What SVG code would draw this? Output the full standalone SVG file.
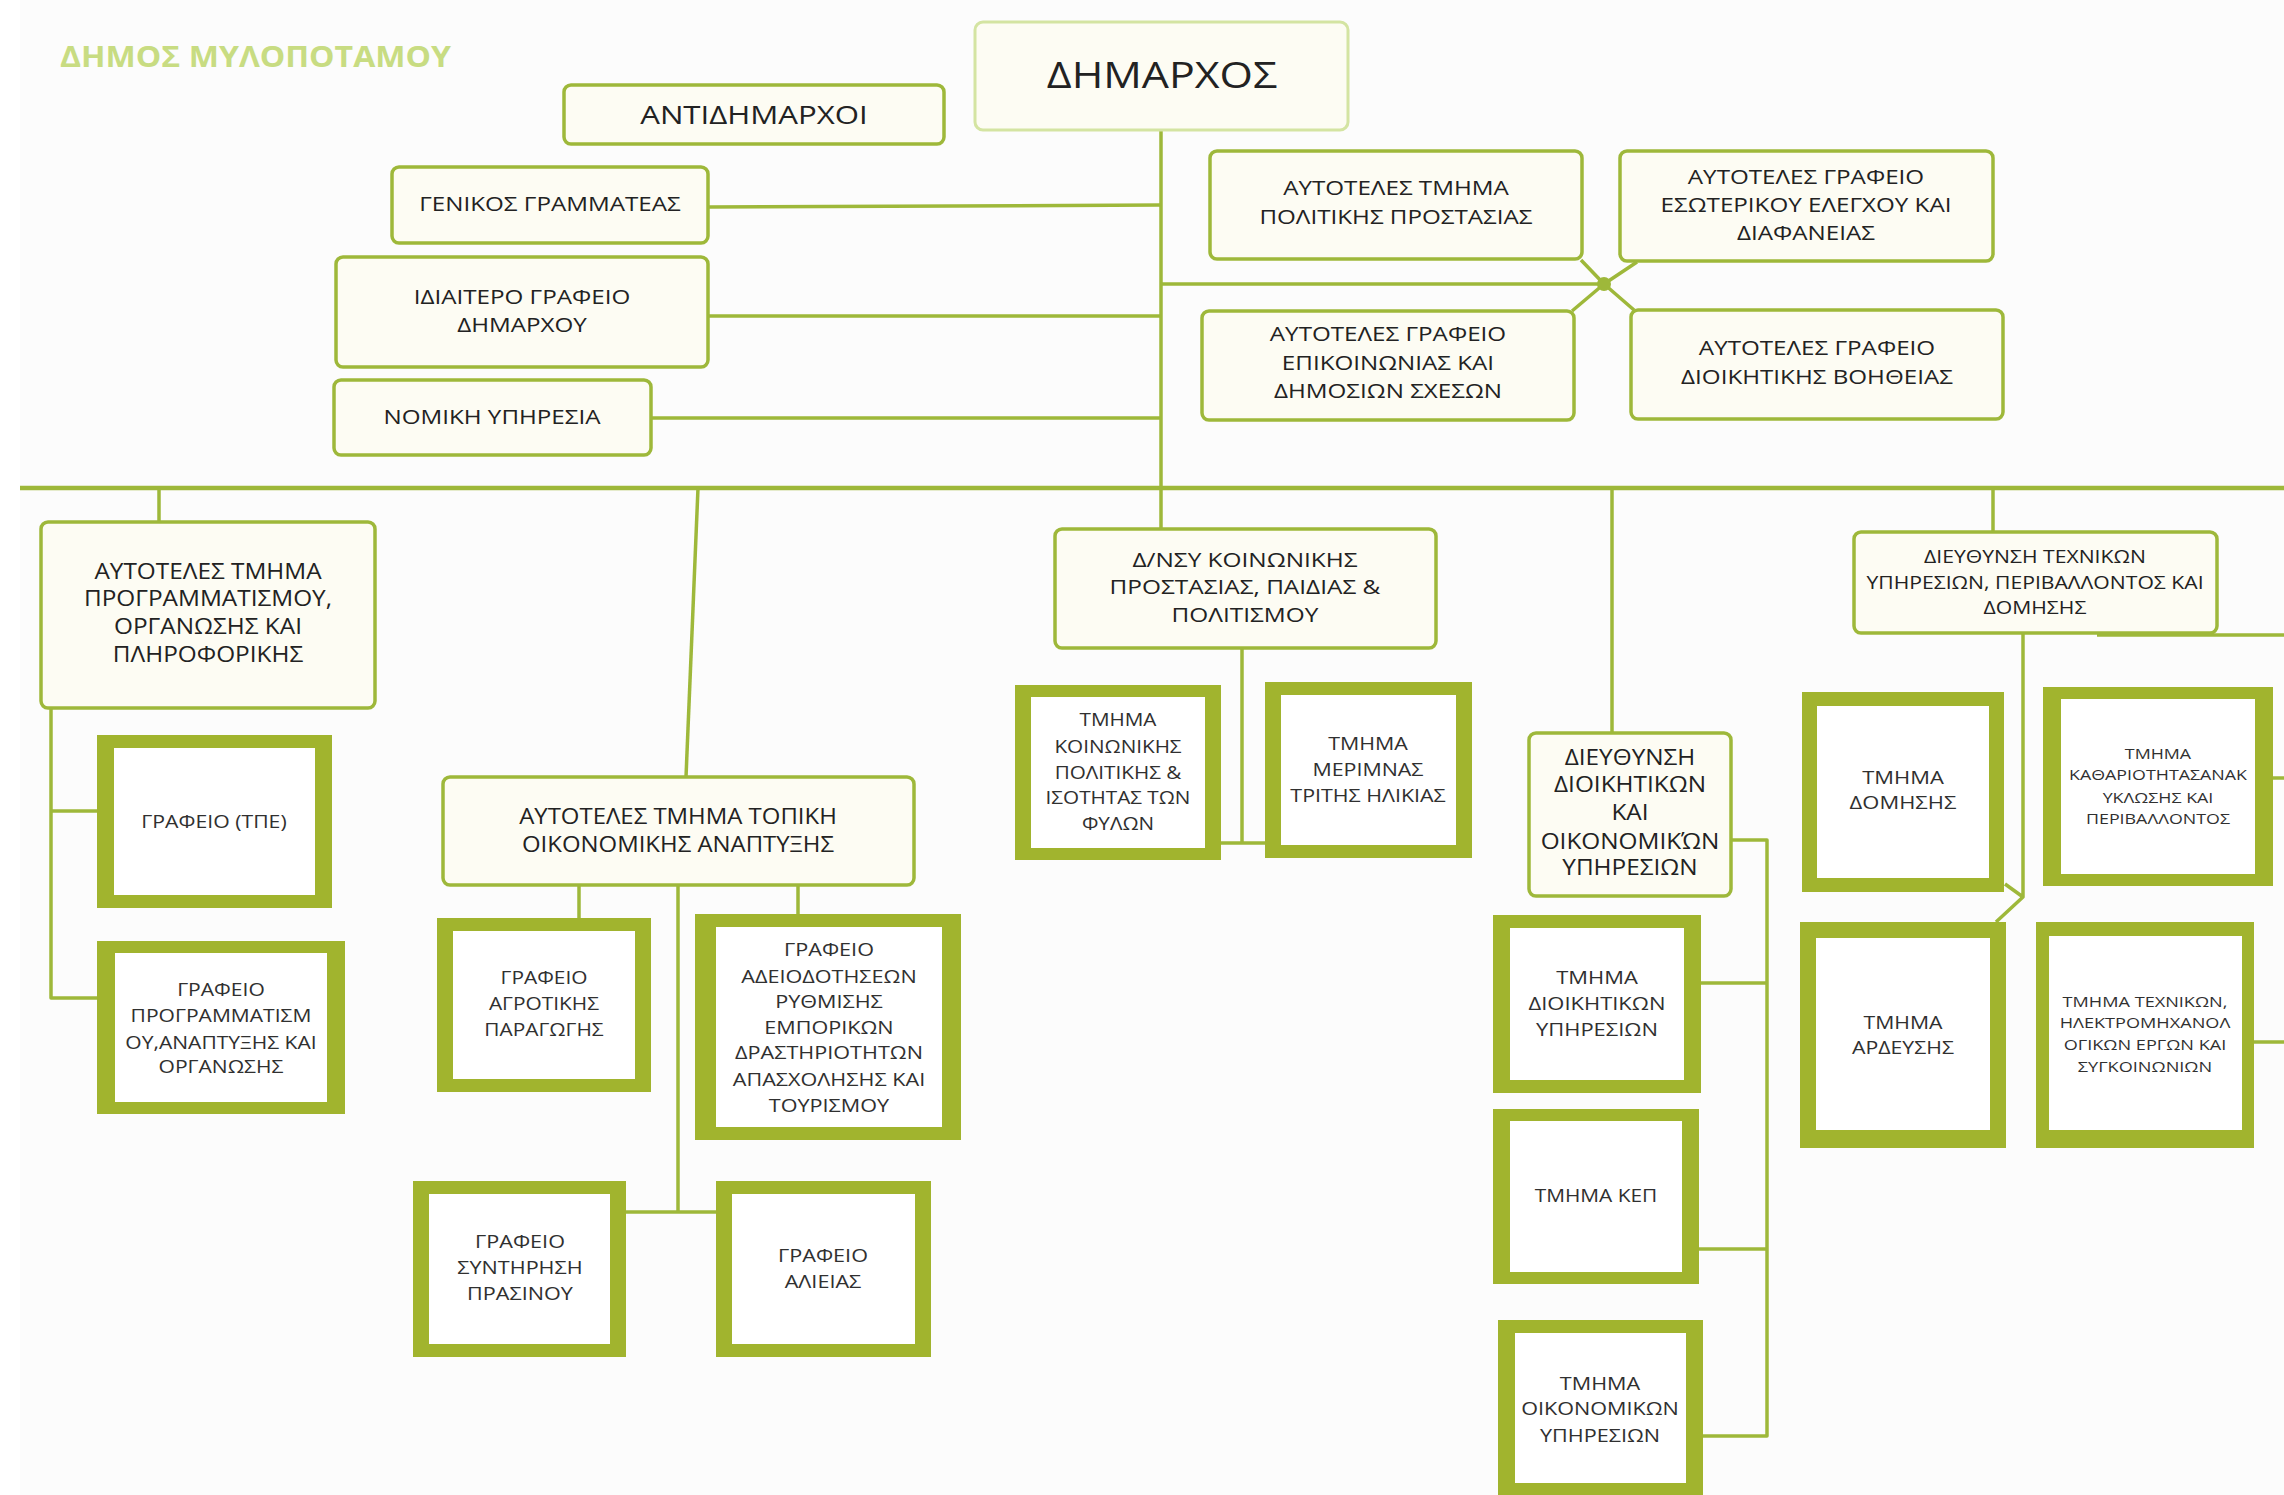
<svg xmlns="http://www.w3.org/2000/svg" width="2284" height="1495" viewBox="0 0 2284 1495">
<defs>
<style>
.n{fill:#fdfcf3;stroke:#9eb83a;stroke-width:3.5}
.top{fill:#fdfcf3;stroke:#d4e4a2;stroke-width:3}
.tb{fill:#a1b42e}
.ti{fill:#ffffff}
.c{fill:none;stroke:#9eb83a;stroke-width:3.5;stroke-linejoin:round}
.bar{fill:none;stroke:#9eb83a;stroke-width:4.5}
text{font-family:"Open Sans","Noto Sans","DejaVu Sans",sans-serif;text-anchor:middle;fill:#222}
.t20{font-size:20.5px}
.t21{font-size:21px}
.t18{font-size:18px;fill:#303030}
.t15{font-size:15px;fill:#303030}
.title{font-size:28px;font-weight:bold;fill:#c8dc82;text-anchor:start}
</style>
</defs>
<rect x="0" y="0" width="2284" height="1495" fill="#ffffff"/>
<rect x="20" y="0" width="2264" height="1495" fill="#fcfcfc"/>

<text class="title" x="60" y="67" textLength="391" lengthAdjust="spacingAndGlyphs">ΔΗΜΟΣ ΜΥΛΟΠΟΤΑΜΟΥ</text>

<g id="connectors">
<line class="c" x1="1161" y1="130" x2="1161" y2="529"/>
<line class="c" x1="708" y1="207" x2="1161" y2="205"/>
<line class="c" x1="708" y1="316" x2="1161" y2="316"/>
<line class="c" x1="651" y1="418" x2="1161" y2="418"/>
<line class="c" x1="1161" y1="284" x2="1604" y2="284"/>
<path class="c" d="M1581 260 L1604 284 L1637 262 M1572 311 L1604 284 L1634 310"/>
<circle cx="1604" cy="284" r="7" fill="#9eb83a"/>
<line class="bar" x1="20" y1="488" x2="2284" y2="488"/>
<line class="c" x1="159" y1="488" x2="159" y2="522"/>
<path class="c" d="M51 708 L51 998 L97 998 M51 811 L97 811"/>
<line class="c" x1="698" y1="488" x2="686" y2="777"/>
<line class="c" x1="579" y1="885" x2="579" y2="918"/>
<line class="c" x1="678" y1="885" x2="678" y2="1212"/>
<line class="c" x1="798" y1="885" x2="798" y2="914"/>
<line class="c" x1="626" y1="1212" x2="716" y2="1212"/>
<line class="c" x1="1242" y1="648" x2="1242" y2="843"/>
<line class="c" x1="1221" y1="843" x2="1265" y2="843"/>
<line class="c" x1="1612" y1="488" x2="1612" y2="733"/>
<path class="c" d="M1731 840 L1767 840 L1767 1436 L1703 1436 M1701 983 L1767 983 M1699 1249 L1767 1249"/>
<line class="c" x1="1993" y1="488" x2="1993" y2="532"/>
<line class="c" x1="2097" y1="635" x2="2284" y2="635"/>
<line class="c" x1="2273" y1="778" x2="2284" y2="778"/>
<line class="c" x1="2254" y1="1042" x2="2284" y2="1042"/>
<path class="c" d="M2023 633 L2023 897 L1996 922 M2005 884 L2023 897"/>
</g>

<g id="dimarxos">
<rect class="top" x="975" y="22" width="373" height="108" rx="8"/>
<g transform="matrix(1.16 0 0 1 -185.9 0)"><text x="1162" y="88" style="font-size:37px">ΔΗΜΑΡΧΟΣ</text></g>
</g>
<g id="antidimarxoi">
<rect class="n" x="564" y="85" width="380" height="59" rx="7"/>
<g transform="matrix(1.2 0 0 1 -150.8 0)"><text x="754" y="124" style="font-size:26px">ΑΝΤΙΔΗΜΑΡΧΟΙ</text></g>
</g>
<g id="genikos">
<rect class="n" x="392" y="167" width="316" height="76" rx="7"/>
<g transform="matrix(1.18 0 0 1 -99 0)"><text class="t20" x="550" y="211.5">ΓΕΝΙΚΟΣ ΓΡΑΜΜΑΤΕΑΣ</text></g>
</g>
<g id="idiaitero">
<rect class="n" x="336" y="257" width="372" height="110" rx="7"/>
<g transform="matrix(1.18 0 0 1 -93.96 0)">
<text class="t20" x="522" y="304">ΙΔΙΑΙΤΕΡΟ ΓΡΑΦΕΙΟ</text>
<text class="t20" x="522" y="332">ΔΗΜΑΡΧΟΥ</text>
</g>
</g>
<g id="nomiki">
<rect class="n" x="334" y="380" width="317" height="75" rx="7"/>
<g transform="matrix(1.18 0 0 1 -88.56 0)"><text class="t20" x="492" y="424">ΝΟΜΙΚΗ ΥΠΗΡΕΣΙΑ</text></g>
</g>
<g id="politiki-prostasia">
<rect class="n" x="1210" y="151" width="372" height="108" rx="7"/>
<g transform="matrix(1.18 0 0 1 -251.28 0)">
<text class="t20" x="1396" y="195">ΑΥΤΟΤΕΛΕΣ ΤΜΗΜΑ</text>
<text class="t20" x="1396" y="224">ΠΟΛΙΤΙΚΗΣ ΠΡΟΣΤΑΣΙΑΣ</text>
</g>
</g>
<g id="esoterikos-elegxos">
<rect class="n" x="1620" y="151" width="373" height="110" rx="7"/>
<g transform="matrix(1.18 0 0 1 -325.08 0)">
<text class="t20" x="1806" y="184">ΑΥΤΟΤΕΛΕΣ ΓΡΑΦΕΙΟ</text>
<text class="t20" x="1806" y="212">ΕΣΩΤΕΡΙΚΟΥ ΕΛΕΓΧΟΥ ΚΑΙ</text>
<text class="t20" x="1806" y="240">ΔΙΑΦΑΝΕΙΑΣ</text>
</g>
</g>
<g id="epikoinonia">
<rect class="n" x="1202" y="311" width="372" height="109" rx="7"/>
<g transform="matrix(1.18 0 0 1 -249.84 0)">
<text class="t20" x="1388" y="341">ΑΥΤΟΤΕΛΕΣ ΓΡΑΦΕΙΟ</text>
<text class="t20" x="1388" y="370">ΕΠΙΚΟΙΝΩΝΙΑΣ ΚΑΙ</text>
<text class="t20" x="1388" y="398">ΔΗΜΟΣΙΩΝ ΣΧΕΣΩΝ</text>
</g>
</g>
<g id="dioikitiki-voitheia">
<rect class="n" x="1631" y="310" width="372" height="109" rx="7"/>
<g transform="matrix(1.18 0 0 1 -327.06 0)">
<text class="t20" x="1817" y="355">ΑΥΤΟΤΕΛΕΣ ΓΡΑΦΕΙΟ</text>
<text class="t20" x="1817" y="384">ΔΙΟΙΚΗΤΙΚΗΣ ΒΟΗΘΕΙΑΣ</text>
</g>
</g>
<g id="programmatismos">
<rect class="n" x="41" y="522" width="334" height="186" rx="7"/>
<g transform="matrix(1.16 0 0 1 -33.28 0)">
<text class="t21" x="208" y="579.5">ΑΥΤΟΤΕΛΕΣ ΤΜΗΜΑ</text>
<text class="t21" x="208" y="606.5">ΠΡΟΓΡΑΜΜΑΤΙΣΜΟΥ,</text>
<text class="t21" x="208" y="634.5">ΟΡΓΑΝΩΣΗΣ ΚΑΙ</text>
<text class="t21" x="208" y="662.5">ΠΛΗΡΟΦΟΡΙΚΗΣ</text>
</g>
</g>
<g id="topiki-anaptyxi">
<rect class="n" x="443" y="777" width="471" height="108" rx="7"/>
<g transform="matrix(1.14 0 0 1 -94.92 0)">
<text class="t21" x="678" y="824.5">ΑΥΤΟΤΕΛΕΣ ΤΜΗΜΑ ΤΟΠΙΚΗ</text>
<text class="t21" x="678" y="852.5">ΟΙΚΟΝΟΜΙΚΗΣ ΑΝΑΠΤΥΞΗΣ</text>
</g>
</g>
<g id="koinoniki-prostasia">
<rect class="n" x="1055" y="529" width="381" height="119" rx="7"/>
<g transform="matrix(1.19 0 0 1 -236.55 0)">
<text class="t20" x="1245" y="567">Δ/ΝΣΥ ΚΟΙΝΩΝΙΚΗΣ</text>
<text class="t20" x="1245" y="594">ΠΡΟΣΤΑΣΙΑΣ, ΠΑΙΔΙΑΣ &amp;</text>
<text class="t20" x="1245" y="622">ΠΟΛΙΤΙΣΜΟΥ</text>
</g>
</g>
<g id="dioikitikon-oikonomikon">
<rect class="n" x="1529" y="733" width="202" height="163" rx="7"/>
<g transform="matrix(1.16 0 0 1 -260.8 0)">
<text class="t21" x="1630" y="765.5">ΔΙΕΥΘΥΝΣΗ</text>
<text class="t21" x="1630" y="792.5">ΔΙΟΙΚΗΤΙΚΩΝ</text>
<text class="t21" x="1630" y="820.5">ΚΑΙ</text>
<text class="t21" x="1630" y="848.5">ΟΙΚΟΝΟΜΙΚΏΝ</text>
<text class="t21" x="1630" y="875.5">ΥΠΗΡΕΣΙΩΝ</text>
</g>
</g>
<g id="texnikon">
<rect class="n" x="1854" y="532" width="363" height="101" rx="7"/>
<g transform="matrix(1.21 0 0 1 -427.35 0)">
<text x="2035" y="563" style="font-size:17.5px">ΔΙΕΥΘΥΝΣΗ ΤΕΧΝΙΚΩΝ</text>
<text x="2035" y="589" style="font-size:17.5px">ΥΠΗΡΕΣΙΩΝ, ΠΕΡΙΒΑΛΛΟΝΤΟΣ ΚΑΙ</text>
<text x="2035" y="614" style="font-size:17.5px">ΔΟΜΗΣΗΣ</text>
</g>
</g>

<g id="grafeio-tpe">
<rect class="tb" x="97" y="735" width="235" height="173"/>
<rect class="ti" x="114" y="748" width="201" height="147"/>
<g transform="matrix(1.18 0 0 1 -38.52 0)"><text class="t18" x="214" y="828.5">ΓΡΑΦΕΙΟ (ΤΠΕ)</text></g>
</g>
<g id="grafeio-programmatismou">
<rect class="tb" x="97" y="941" width="248" height="173"/>
<rect class="ti" x="115" y="953" width="212" height="149"/>
<g transform="matrix(1.17 0 0 1 -37.57 0)">
<text class="t18" x="221" y="996.5">ΓΡΑΦΕΙΟ</text>
<text class="t18" x="221" y="1022.5">ΠΡΟΓΡΑΜΜΑΤΙΣΜ</text>
<text class="t18" x="221" y="1049.5">ΟΥ,ΑΝΑΠΤΥΞΗΣ ΚΑΙ</text>
<text class="t18" x="221" y="1073.5">ΟΡΓΑΝΩΣΗΣ</text>
</g>
</g>
<g id="agrotiki">
<rect class="tb" x="437" y="918" width="214" height="174"/>
<rect class="ti" x="453" y="931" width="182" height="148"/>
<g transform="matrix(1.16 0 0 1 -87.04 0)">
<text class="t18" x="544" y="984.5">ΓΡΑΦΕΙΟ</text>
<text class="t18" x="544" y="1010.5">ΑΓΡΟΤΙΚΗΣ</text>
<text class="t18" x="544" y="1036.5">ΠΑΡΑΓΩΓΗΣ</text>
</g>
</g>
<g id="adeiodotiseis">
<rect class="tb" x="695" y="914" width="266" height="226"/>
<rect class="ti" x="716" y="927" width="226" height="200"/>
<g transform="matrix(1.2 0 0 1 -165.8 0)">
<text class="t18" x="829" y="956.5">ΓΡΑΦΕΙΟ</text>
<text class="t18" x="829" y="983.5">ΑΔΕΙΟΔΟΤΗΣΕΩΝ</text>
<text class="t18" x="829" y="1008.5">ΡΥΘΜΙΣΗΣ</text>
<text class="t18" x="829" y="1034.5">ΕΜΠΟΡΙΚΩΝ</text>
<text class="t18" x="829" y="1059.5">ΔΡΑΣΤΗΡΙΟΤΗΤΩΝ</text>
<text class="t18" x="829" y="1086.5">ΑΠΑΣΧΟΛΗΣΗΣ ΚΑΙ</text>
<text class="t18" x="829" y="1112.5">ΤΟΥΡΙΣΜΟΥ</text>
</g>
</g>
<g id="prasino">
<rect class="tb" x="413" y="1181" width="213" height="176"/>
<rect class="ti" x="429" y="1194" width="181" height="150"/>
<g transform="matrix(1.2 0 0 1 -104 0)">
<text class="t18" x="520" y="1248.5">ΓΡΑΦΕΙΟ</text>
<text class="t18" x="520" y="1274.5">ΣΥΝΤΗΡΗΣΗ</text>
<text class="t18" x="520" y="1300.5">ΠΡΑΣΙΝΟΥ</text>
</g>
</g>
<g id="alieia">
<rect class="tb" x="716" y="1181" width="215" height="176"/>
<rect class="ti" x="732" y="1194" width="183" height="150"/>
<g transform="matrix(1.2 0 0 1 -164.6 0)">
<text class="t18" x="823" y="1262.5">ΓΡΑΦΕΙΟ</text>
<text class="t18" x="823" y="1288.5">ΑΛΙΕΙΑΣ</text>
</g>
</g>
<g id="isotita">
<rect class="tb" x="1015" y="685" width="206" height="175"/>
<rect class="ti" x="1031" y="697" width="174" height="151"/>
<g transform="matrix(1.15 0 0 1 -167.7 0)">
<text class="t18" x="1118" y="726.5">ΤΜΗΜΑ</text>
<text class="t18" x="1118" y="753.5">ΚΟΙΝΩΝΙΚΗΣ</text>
<text class="t18" x="1118" y="779.5">ΠΟΛΙΤΙΚΗΣ &amp;</text>
<text class="t18" x="1118" y="804.5">ΙΣΟΤΗΤΑΣ ΤΩΝ</text>
<text class="t18" x="1118" y="830.5">ΦΥΛΩΝ</text>
</g>
</g>
<g id="trititi-ilikia">
<rect class="tb" x="1265" y="682" width="207" height="176"/>
<rect class="ti" x="1281" y="695" width="175" height="150"/>
<g transform="matrix(1.19 0 0 1 -259.92 0)">
<text class="t18" x="1368" y="750.5">ΤΜΗΜΑ</text>
<text class="t18" x="1368" y="776.5">ΜΕΡΙΜΝΑΣ</text>
<text class="t18" x="1368" y="802.5">ΤΡΙΤΗΣ ΗΛΙΚΙΑΣ</text>
</g>
</g>
<g id="dioikitikon-ypiresion">
<rect class="tb" x="1493" y="915" width="208" height="178"/>
<rect class="ti" x="1510" y="928" width="174" height="152"/>
<g transform="matrix(1.22 0 0 1 -351.34 0)">
<text class="t18" x="1597" y="984.5">ΤΜΗΜΑ</text>
<text class="t18" x="1597" y="1010.5">ΔΙΟΙΚΗΤΙΚΩΝ</text>
<text class="t18" x="1597" y="1036.5">ΥΠΗΡΕΣΙΩΝ</text>
</g>
</g>
<g id="kep">
<rect class="tb" x="1493" y="1109" width="206" height="175"/>
<rect class="ti" x="1510" y="1121" width="172" height="151"/>
<g transform="matrix(1.16 0 0 1 -255.36 0)"><text class="t18" x="1596" y="1202.5">ΤΜΗΜΑ ΚΕΠ</text></g>
</g>
<g id="oikonomikon-ypiresion">
<rect class="tb" x="1498" y="1320" width="205" height="175"/>
<rect class="ti" x="1515" y="1333" width="171" height="150"/>
<g transform="matrix(1.2 0 0 1 -320 0)">
<text class="t18" x="1600" y="1390.5">ΤΜΗΜΑ</text>
<text class="t18" x="1600" y="1415.5">ΟΙΚΟΝΟΜΙΚΩΝ</text>
<text class="t18" x="1600" y="1442.5">ΥΠΗΡΕΣΙΩΝ</text>
</g>
</g>
<g id="domisi">
<rect class="tb" x="1802" y="692" width="202" height="200"/>
<rect class="ti" x="1817" y="706" width="172" height="172"/>
<g transform="matrix(1.22 0 0 1 -418.66 0)">
<text class="t18" x="1903" y="784.5">ΤΜΗΜΑ</text>
<text class="t18" x="1903" y="809.5">ΔΟΜΗΣΗΣ</text>
</g>
</g>
<g id="kathariotita">
<rect class="tb" x="2043" y="687" width="230" height="199"/>
<rect class="ti" x="2061" y="699" width="194" height="175"/>
<g transform="matrix(1.19 0 0 1 -410.02 0)">
<text class="t15" x="2158" y="759.4">ΤΜΗΜΑ</text>
<text class="t15" x="2158" y="780.4">ΚΑΘΑΡΙΟΤΗΤΑΣΑΝΑΚ</text>
<text class="t15" x="2158" y="803.4">ΥΚΛΩΣΗΣ ΚΑΙ</text>
<text class="t15" x="2158" y="824.4">ΠΕΡΙΒΑΛΛΟΝΤΟΣ</text>
</g>
</g>
<g id="ardeusi">
<rect class="tb" x="1800" y="922" width="206" height="226"/>
<rect class="ti" x="1816" y="938" width="174" height="192"/>
<g transform="matrix(1.18 0 0 1 -342.54 0)">
<text class="t18" x="1903" y="1029.5">ΤΜΗΜΑ</text>
<text class="t18" x="1903" y="1054.5">ΑΡΔΕΥΣΗΣ</text>
</g>
</g>
<g id="texnika-erga">
<rect class="tb" x="2036" y="922" width="218" height="226"/>
<rect class="ti" x="2049" y="936" width="193" height="194"/>
<g transform="matrix(1.21 0 0 1 -450.45 0)">
<text class="t15" x="2145" y="1007.4">ΤΜΗΜΑ ΤΕΧΝΙΚΩΝ,</text>
<text class="t15" x="2145" y="1028.4">ΗΛΕΚΤΡΟΜΗΧΑΝΟΛ</text>
<text class="t15" x="2145" y="1050.4">ΟΓΙΚΩΝ ΕΡΓΩΝ ΚΑΙ</text>
<text class="t15" x="2145" y="1072.4">ΣΥΓΚΟΙΝΩΝΙΩΝ</text>
</g>
</g>
</svg>
